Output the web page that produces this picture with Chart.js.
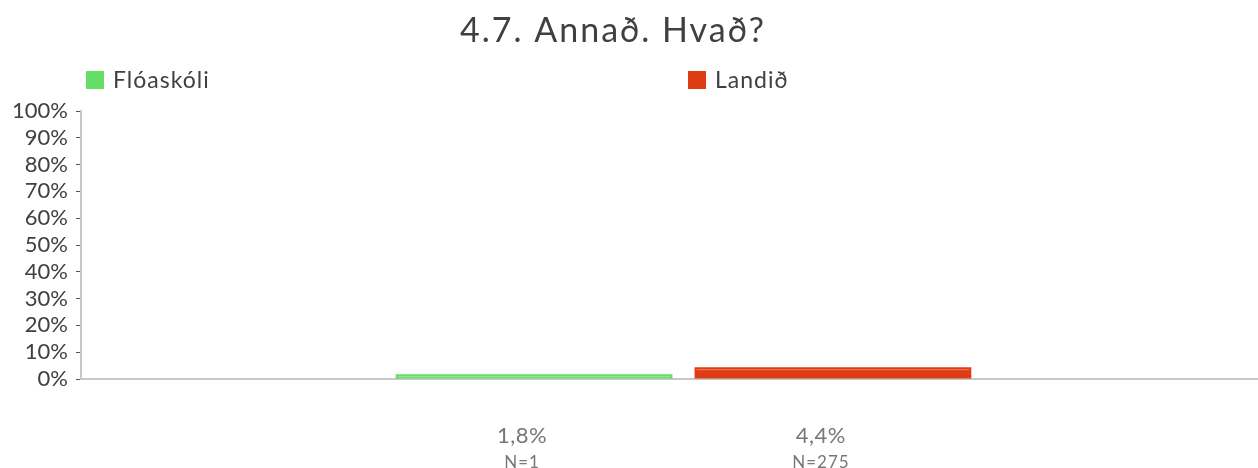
<!DOCTYPE html>
<html lang="is">
<head>
<meta charset="utf-8">
<title>4.7. Annað. Hvað?</title>
<script src="https://cdn.jsdelivr.net/npm/chart.js@4/dist/chart.umd.min.js"></script>
<style>
  html, body { margin: 0; padding: 0; background: #fff; overflow: hidden; }
  #view { width: 1258px; height: 468px; overflow: hidden; }
  /* plot runs a little past the right edge of the view */
  #wrap { position: relative; width: 1286px; height: 468px; }
</style>
</head>
<body>
<div id="view"><div id="wrap"><canvas id="chart"></canvas></div></div>
<script>
/* Flóaskóli vs Landið, question 4.7 */
const chartTitle = "4.7. Annað. Hvað?";
const seriesNames = ["Flóaskóli", "Landið"];
const seriesValues = [1.8, 4.4];
const seriesCounts = [1, 275];
const seriesColors = ["#66DD66", "#E03C14"];
const seriesHighlights = ["#9BEA9B", "#EC7A5E"];
const yTicks = [0, 10, 20, 30, 40, 50, 60, 70, 80, 90, 100];

const FONT = "Lato, 'Open Sans', sans-serif";
const pct = v => v.toFixed(1).replace(".", ",") + "%";

// title, legend row, labels under bars, thin light line along each bar top
const decor = {
  id: "decor",
  afterDatasetsDraw(chart) {
    const ctx = chart.ctx;
    ctx.save();
    chart.data.datasets.forEach((ds, i) => {
      const bar = chart.getDatasetMeta(i).data[0];
      const half = bar.width / 2;
      ctx.strokeStyle = seriesHighlights[i];
      ctx.lineWidth = 1;
      ctx.beginPath();
      ctx.moveTo(bar.x - half + 2, bar.y + 2.5);
      ctx.lineTo(bar.x + half - 2, bar.y + 2.5);
      ctx.stroke();
    });
    ctx.restore();
  },
  afterDraw(chart) {
    const ctx = chart.ctx;
    ctx.save();
    ctx.textBaseline = "alphabetic";

    ctx.fillStyle = "#404040";
    ctx.font = `34px ${FONT}`;
    ctx.letterSpacing = "2px";
    ctx.textAlign = "center";
    ctx.fillText(chartTitle, 613, 42);

    const legendX = [86, 688];
    ctx.font = `23px ${FONT}`;
    ctx.letterSpacing = "1px";
    ctx.textAlign = "left";
    seriesNames.forEach((name, i) => {
      ctx.fillStyle = seriesColors[i];
      ctx.fillRect(legendX[i], 71, 18, 18);
      ctx.fillStyle = "#404040";
      ctx.fillText(name, legendX[i] + 27, 88);
    });

    ctx.textAlign = "center";
    ctx.fillStyle = "#777777";
    chart.data.datasets.forEach((ds, i) => {
      const bar = chart.getDatasetMeta(i).data[0];
      const x = bar.x - 12;
      ctx.font = `22px ${FONT}`;
      ctx.letterSpacing = "0.5px";
      ctx.fillText(pct(ds.data[0]), x, 443);
      ctx.font = `17px ${FONT}`;
      ctx.letterSpacing = "1px";
      ctx.fillText("N=" + seriesCounts[i], x, 468);
    });
    ctx.restore();
  }
};

new Chart(document.getElementById("chart"), {
  type: "bar",
  data: {
    labels: [chartTitle],
    datasets: seriesNames.map((name, i) => ({
      label: name,
      data: [seriesValues[i]],
      backgroundColor: seriesColors[i],
      borderWidth: 0,
      categoryPercentage: 0.496,
      barPercentage: 0.926,
    })),
  },
  options: {
    responsive: true,
    maintainAspectRatio: false,
    animation: false,
    layout: { padding: { top: 111, left: 0, right: 0, bottom: 0 } },
    plugins: { legend: { display: false }, title: { display: false }, tooltip: { enabled: false } },
    scales: {
      x: {
        grid: { display: false },
        border: { color: "#C8C8C8", width: 2 },
        ticks: { display: false },
        afterFit(scale) { scale.height = 89; },
      },
      y: {
        min: 0, max: 100,
        afterBuildTicks(scale) { scale.ticks = yTicks.map(v => ({ value: v })); },
        grid: { drawOnChartArea: false, tickLength: 5, tickColor: "#555555", tickWidth: 1 },
        border: { color: "#C8C8C8", width: 2 },
        ticks: {
          autoSkip: false, color: "#404040", font: { family: FONT, size: 22 }, padding: 8,
          callback: v => v + "%",
        },
        afterFit(scale) { scale.width = 81; },
      },
    },
  },
  plugins: [decor],
});
</script>
</body>
</html>
